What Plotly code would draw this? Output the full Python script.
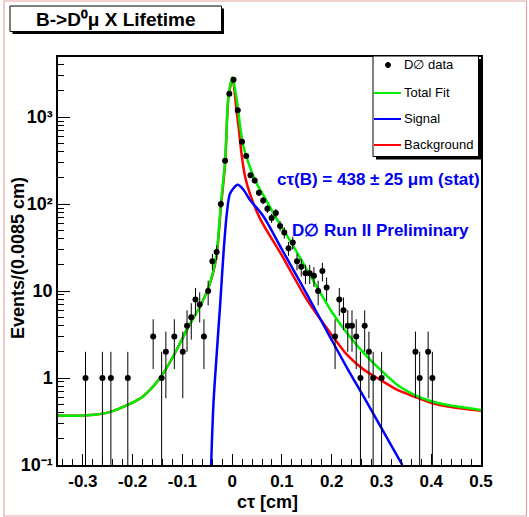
import numpy as np
import plotly.graph_objects as go

# ---------------- data ----------------
ct_bins = [-0.29475, -0.26075, -0.24375, -0.20975, -0.15875, -0.14175, -0.13325,
           -0.11625, -0.09925, -0.09075, -0.08225, -0.07375, -0.06525, -0.05675,
           -0.04825, -0.03975, -0.03125, -0.02275, -0.01425, -0.00575, 0.00275,
           0.01125, 0.01975, 0.02825, 0.03675, 0.04525, 0.05375, 0.06225, 0.07075,
           0.07925, 0.08775, 0.09625, 0.10475, 0.11325, 0.12175, 0.13025, 0.13875,
           0.14725, 0.15575, 0.16425, 0.17275, 0.18125, 0.18975, 0.20675, 0.21525,
           0.22375, 0.23225, 0.24075, 0.24925, 0.25775, 0.26625, 0.27475, 0.28325,
           0.30025, 0.36825, 0.37675, 0.39375, 0.40225]
events = [1, 1, 1, 1, 3, 1, 2,
          3, 2, 4, 5, 8, 7, 3,
          10, 22, 28, 100, 315, 1850, 2690,
          1200, 520, 356, 214, 186, 135, 110, 88,
          69, 79, 56, 47, 31, 36, 22, 19,
          16, 16, 15, 10, 17, 11, 3, 8,
          6, 4, 4, 3, 1, 4, 2, 1,
          1, 2, 1, 2, 1]

fit_x = [-0.35, -0.30, -0.25, -0.21, -0.18, -0.145, -0.118, -0.091, -0.065, -0.048,
         -0.038, -0.031, -0.0227, -0.0142, -0.0074, 0.0006, 0.006, 0.0114, 0.016,
         0.0228, 0.033, 0.046, 0.0565, 0.0665, 0.083, 0.097, 0.12, 0.15, 0.184,
         0.1976, 0.231, 0.265, 0.298, 0.332, 0.366, 0.399, 0.433, 0.5]
fit_y = [0.37, 0.37, 0.40, 0.49, 0.61, 1.0, 1.79, 3.6, 6.6, 10.8,
         17, 28, 100, 320, 1750, 2870, 2040, 1310, 775,
         456, 294, 189, 145, 116, 78, 57, 35, 17.6, 8.2,
         6.05, 3.27, 1.92, 1.24, 0.83, 0.64, 0.544, 0.49, 0.43]

sig_x = [-0.0423, -0.0376, -0.031, -0.024, -0.0175, -0.0107, -0.004, 0.011, 0.023,
         0.036, 0.063, 0.10, 0.15, 0.1976, 0.231, 0.265, 0.292, 0.342]
sig_y = [0.1, 0.51, 1.92, 7.2, 27, 78, 133, 166, 145,
         111, 72, 30, 9.2, 2.9, 1.3, 0.6, 0.32, 0.1]

bkg_x = [-0.35, -0.30, -0.25, -0.21, -0.18, -0.145, -0.118, -0.091, -0.065, -0.048,
         -0.038, -0.031, -0.0227, -0.0142, -0.0074, 0.0006, 0.0094, 0.0128, 0.0195,
         0.026, 0.036, 0.0565, 0.10, 0.151, 0.1976, 0.231, 0.265, 0.298, 0.332,
         0.366, 0.399, 0.433, 0.5]
bkg_y = [0.37, 0.37, 0.40, 0.49, 0.61, 1.0, 1.79, 3.6, 6.6, 10.8,
         16.5, 26, 92, 290, 1680, 2730, 1100, 775, 350,
         206, 130, 67, 25.5, 7.8, 3.27, 1.84, 1.24, 0.95, 0.73,
         0.61, 0.52, 0.47, 0.42]

x_ticks = [-0.3, -0.2, -0.1, 0, 0.1, 0.2, 0.3, 0.4, 0.5]
x_tick_text = ["-0.3", "-0.2", "-0.1", "0", "0.1", "0.2", "0.3", "0.4", "0.5"]
y_ticks = [0.1, 1, 10, 100, 1000]
y_tick_text = ["10\u207b\u00b9", "1", "10", "10\u00b2", "10\u00b3"]
y_minor = [m * d for d in (0.1, 1, 10, 100, 1000) for m in range(2, 10)]

title_text = "B->D\u2070μ X Lifetime"
result_text = "cτ(B) = 438 ± 25 μm (stat)"
prelim_text = "D∅ Run II Preliminary"
x_title = "cτ [cm]"
y_title = "Events/(0.0085 cm)"
legend_names = ["D∅ data", "Total Fit", "Signal", "Background"]

# ---------------- layout geometry (pixels) ----------------
W, H = 529, 517
L, R, T, B = 58, 481, 57, 465
FONT = "Liberation Sans, Arial, Helvetica, sans-serif"


def px(p):
    return (p - L) / (R - L)


def py(p):
    return (B - p) / (B - T)


counts = np.array(events, dtype=float)
err = np.sqrt(counts)

fig = go.Figure()
fig.add_trace(go.Scatter(x=bkg_x, y=bkg_y, mode="lines", name=legend_names[3],
                         line=dict(color="#ff0000", width=2.5, shape="spline", smoothing=0.8),
                         showlegend=False))
fig.add_trace(go.Scatter(x=sig_x, y=sig_y, mode="lines", name=legend_names[2],
                         line=dict(color="#0000ff", width=2.5, shape="spline", smoothing=0.8),
                         showlegend=False))
fig.add_trace(go.Scatter(x=fit_x, y=fit_y, mode="lines", name=legend_names[1],
                         line=dict(color="#00ee00", width=2.5, shape="spline", smoothing=0.8),
                         showlegend=False))
fig.add_trace(go.Scatter(x=ct_bins, y=events, mode="markers", name=legend_names[0],
                         marker=dict(color="black", size=6),
                         error_y=dict(type="data", array=err, arrayminus=err,
                                      color="black", thickness=1, width=0),
                         showlegend=False))

shapes = []
# outer canvas frame
shapes.append(dict(type="rect", xref="paper", yref="paper",
                   x0=px(4), x1=px(526.5), y0=py(516), y1=py(1),
                   line=dict(color="#e8a4a4", width=1.2), layer="below"))
# title box with shadow
shapes.append(dict(type="rect", xref="paper", yref="paper",
                   x0=px(12.5), x1=px(224), y0=py(34), y1=py(8.5),
                   fillcolor="black", line=dict(width=0)))
shapes.append(dict(type="rect", xref="paper", yref="paper",
                   x0=px(10), x1=px(221.5), y0=py(31.5), y1=py(6),
                   fillcolor="white", line=dict(color="black", width=1)))
# legend box with shadow
shapes.append(dict(type="rect", xref="paper", yref="paper",
                   x0=px(376), x1=px(481), y0=py(159.5), y1=py(59),
                   fillcolor="black", line=dict(width=0)))
shapes.append(dict(type="rect", xref="paper", yref="paper",
                   x0=px(373), x1=px(478.5), y0=py(156.5), y1=py(56),
                   fillcolor="white", line=dict(color="black", width=1)))
# legend symbols
shapes.append(dict(type="circle", xref="paper", yref="paper",
                   x0=px(385.5), x1=px(390.5), y0=py(67.5), y1=py(62.5),
                   fillcolor="black", line=dict(color="black", width=1)))
for yy, col in ((93, "#00ee00"), (119, "#0000ff"), (145, "#ff0000")):
    shapes.append(dict(type="line", xref="paper", yref="paper",
                       x0=px(374), x1=px(401), y0=py(yy), y1=py(yy),
                       line=dict(color=col, width=2)))

bold = dict(family=FONT, color="black", weight="bold")
annotations = []
annotations.append(dict(text=title_text, xref="paper", yref="paper",
                        x=px(115.5), y=py(19), xanchor="center", yanchor="middle",
                        showarrow=False, font=dict(bold, size=19)))
for yy, name in zip((64.5, 92.5, 118.5, 144.5), legend_names):
    annotations.append(dict(text=name, xref="paper", yref="paper",
                            x=px(402), y=py(yy), xanchor="left", yanchor="middle",
                            showarrow=False, font=dict(family=FONT, size=13, color="black")))
annotations.append(dict(text=result_text, xref="paper", yref="paper",
                        x=px(378), y=py(179), xanchor="center", yanchor="middle",
                        showarrow=False, font=dict(bold, size=17, color="#0000f0")))
annotations.append(dict(text=prelim_text, xref="paper", yref="paper",
                        x=px(380), y=py(230), xanchor="center", yanchor="middle",
                        showarrow=False, font=dict(bold, size=17, color="#0000f0")))
annotations.append(dict(text=x_title, xref="paper", yref="paper",
                        x=px(267), y=py(502), xanchor="center", yanchor="middle",
                        showarrow=False, font=dict(bold, size=18)))
annotations.append(dict(text=y_title, xref="paper", yref="paper",
                        x=px(18), y=py(258), xanchor="center", yanchor="middle",
                        textangle=-90, showarrow=False, font=dict(bold, size=18)))

fig.update_layout(
    width=W, height=H, autosize=False,
    margin=dict(l=L, r=W - R, t=T, b=H - B, pad=0),
    paper_bgcolor="white", plot_bgcolor="white",
    showlegend=False,
    font=dict(family=FONT, color="black"),
    shapes=shapes, annotations=annotations,
    xaxis=dict(range=[-0.35, 0.5], showgrid=False, zeroline=False,
               showline=True, linecolor="black", linewidth=1.5, mirror=True,
               ticks="inside", ticklen=11, tickwidth=1, tickcolor="black",
               tickvals=x_ticks, ticktext=x_tick_text,
               tickfont=dict(family=FONT, size=17, color="black", weight="bold"),
               minor=dict(dtick=0.02, tick0=0, ticks="inside", ticklen=6,
                          tickwidth=1, tickcolor="black", showgrid=False)),
    yaxis=dict(type="log", range=[-1, 3.69], showgrid=False, zeroline=False,
               showline=True, linecolor="black", linewidth=1.5, mirror=True,
               ticks="inside", ticklen=12, tickwidth=1, tickcolor="black",
               tickvals=y_ticks, ticktext=y_tick_text,
               tickfont=dict(family=FONT, size=18, color="black", weight="bold"),
               minor=dict(tickvals=y_minor, ticks="inside", ticklen=6,
                          tickwidth=1, tickcolor="black", showgrid=False)),
)

fig.write_html("out.html",
               config={"displayModeBar": False},
               post_script="document.body.style.margin='0px';document.body.style.overflow='hidden';")
